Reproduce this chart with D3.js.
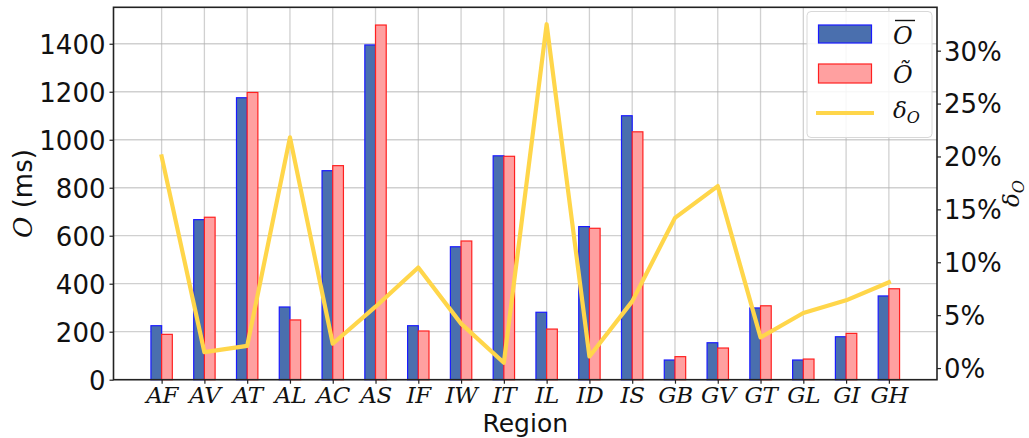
<!DOCTYPE html>
<html>
<head>
<meta charset="utf-8">
<script src="https://cdn.jsdelivr.net/npm/d3@7"></script>
<style>
  html, body { margin: 0; padding: 0; background: #fff; }
  svg { display: block; }
</style>
</head>
<body>
<div id="chart"></div>
<script>
const regions = ["AF","AV","AT","AL","AC","AS","IF","IW","IT","IL","ID","IS","GB","GV","GT","GL","GI","GH"];
const meanO   = [225, 667, 1175, 303, 871, 1395, 225, 554, 933, 281, 638, 1100, 82, 154, 299, 82, 179, 349];
const medianO = [189, 677, 1197, 249, 892, 1478, 203, 578, 931, 211, 631, 1033, 96, 132, 308, 86, 193, 379];
const deltaO  = [20.0, 1.5, 2.1, 21.8, 2.3, 5.8, 9.5, 4.2, 0.5, 32.5, 1.1, 6.3, 14.2, 17.2, 2.9, 5.2, 6.4, 8.1];
const leftTicks  = [0, 200, 400, 600, 800, 1000, 1200, 1400];
const rightTicks = [0, 5, 10, 15, 20, 25, 30];

const W = 1029, H = 438;
const L = 113.5, R = 937, T = 7.3, B = 379.7;
const barW = 0.25;

const svg = d3.select("#chart").append("svg").attr("width", W).attr("height", H);

const n = regions.length;
const xMin = -barW - 0.05 * (n - 1 + 2 * barW), xMax = n - 1 + barW + 0.05 * (n - 1 + 2 * barW);
const x = d3.scaleLinear().domain([xMin, xMax]).range([L, R]);
const yMax = d3.max(meanO.concat(medianO)) * 1.05;
const y = d3.scaleLinear().domain([0, yMax]).range([B, T]);
const dMin = d3.min(deltaO), dMax = d3.max(deltaO), dR = dMax - dMin;
const y2 = d3.scaleLinear().domain([dMin - 0.05 * dR, dMax + 0.05 * dR]).range([B, T]);

// grid
const grid = svg.append("g").attr("stroke", "#b0b0b0").attr("stroke-opacity", 0.6).attr("stroke-width", 1.3);
grid.selectAll("line.v").data(regions).enter().append("line")
  .attr("x1", (d, i) => x(i)).attr("x2", (d, i) => x(i)).attr("y1", T).attr("y2", B);
grid.selectAll("line.h").data(leftTicks).enter().append("line")
  .attr("x1", L).attr("x2", R).attr("y1", d => y(d)).attr("y2", d => y(d));

// bars
svg.append("g").selectAll("rect").data(meanO).enter().append("rect")
  .attr("x", (d, i) => x(i - barW)).attr("width", x(barW) - x(0))
  .attr("y", d => y(d)).attr("height", d => B - y(d))
  .attr("fill", "#4a6fae").attr("stroke", "#1a1aff").attr("stroke-width", 1.2);
svg.append("g").selectAll("rect").data(medianO).enter().append("rect")
  .attr("x", (d, i) => x(i)).attr("width", x(barW) - x(0))
  .attr("y", d => y(d)).attr("height", d => B - y(d))
  .attr("fill", "#ffa0a0").attr("stroke", "#ff2020").attr("stroke-width", 1.2);

// line
const line = d3.line().x((d, i) => x(i)).y(d => y2(d));
svg.append("path").datum(deltaO).attr("d", line)
  .attr("fill", "none").attr("stroke", "#ffd64a").attr("stroke-width", 4.2)
  .attr("stroke-linejoin", "round").attr("stroke-linecap", "square");

// axes
const font = "'DejaVu Sans', sans-serif";
const ax = svg.append("g").attr("transform", `translate(${L},0)`)
  .call(d3.axisLeft(y).tickValues(leftTicks).tickSize(4).tickPadding(4).tickFormat(d3.format("d")));
const ax2 = svg.append("g").attr("transform", `translate(${R},0)`)
  .call(d3.axisRight(y2).tickValues(rightTicks).tickSize(4).tickPadding(3).tickFormat(d => d + "%"));
const axb = svg.append("g").attr("transform", `translate(0,${B})`)
  .call(d3.axisBottom(x).tickValues(d3.range(n)).tickSize(4).tickPadding(4).tickFormat(i => regions[i]));
[ax, ax2, axb].forEach(g => {
  g.select(".domain").remove();
  g.selectAll(".tick line").attr("stroke", "#222").attr("stroke-width", 1.2);
});
[ax, ax2].forEach(g => g.selectAll(".tick text").attr("font-family", font).attr("font-size", 26).attr("fill", "#111").attr("dy", "0.36em"));
axb.selectAll(".tick text").attr("font-family", "'DejaVu Serif', serif").attr("font-style", "italic")
  .attr("font-size", 23).attr("fill", "#111").attr("dy", "0.66em").attr("letter-spacing", "-0.3px");

// frame
svg.append("rect").attr("x", L).attr("y", T).attr("width", R - L).attr("height", B - T)
  .attr("fill", "none").attr("stroke", "#222").attr("stroke-width", 1.6);

// axis labels
svg.append("text").attr("x", (L + R) / 2).attr("y", 431.5).attr("text-anchor", "middle")
  .attr("font-family", font).attr("font-size", 25).attr("fill", "#111").text("Region");
const yl = svg.append("text").attr("transform", `translate(32,${(T + B) / 2}) rotate(-90)`)
  .attr("text-anchor", "middle").attr("font-family", font).attr("font-size", 26).attr("fill", "#111");
yl.append("tspan").attr("font-family", "'DejaVu Serif', serif").attr("font-style", "italic").text("O");
yl.append("tspan").text(" (ms)");
const yr = svg.append("text").attr("transform", `translate(1019,${(T + B) / 2}) rotate(-90)`)
  .attr("text-anchor", "middle").attr("font-family", "'DejaVu Serif', serif").attr("font-style", "italic")
  .attr("font-size", 23).attr("fill", "#111");
yr.append("tspan").text("δ");
yr.append("tspan").attr("font-size", 16).attr("dy", 5).text("O");

// legend
const lg = svg.append("g");
lg.append("rect").attr("x", 807).attr("y", 11.5).attr("width", 125).attr("height", 126).attr("rx", 4)
  .attr("fill", "#fff").attr("fill-opacity", 0.85).attr("stroke", "#d8d8d8").attr("stroke-width", 1);
lg.append("rect").attr("x", 818.5).attr("y", 25).attr("width", 53).attr("height", 18)
  .attr("fill", "#4a6fae").attr("stroke", "#1a1aff").attr("stroke-width", 1.2);
lg.append("rect").attr("x", 818.5).attr("y", 64).attr("width", 53).attr("height", 19)
  .attr("fill", "#ffa0a0").attr("stroke", "#ff2020").attr("stroke-width", 1.2);
lg.append("line").attr("x1", 816).attr("x2", 874).attr("y1", 113).attr("y2", 113)
  .attr("stroke", "#ffd64a").attr("stroke-width", 4.2);
const lt = "'DejaVu Serif', serif";
lg.append("text").attr("x", 893).attr("y", 44).attr("font-family", lt).attr("font-style", "italic")
  .attr("font-size", 24).attr("fill", "#111").text("O");
lg.append("line").attr("x1", 895).attr("x2", 915).attr("y1", 20.5).attr("y2", 20.5)
  .attr("stroke", "#111").attr("stroke-width", 1.4);
lg.append("text").attr("x", 893).attr("y", 83).attr("font-family", lt).attr("font-style", "italic")
  .attr("font-size", 24).attr("fill", "#111").text("O\u0303");
const l3 = lg.append("text").attr("x", 893).attr("y", 118).attr("font-family", lt).attr("font-style", "italic")
  .attr("font-size", 23).attr("fill", "#111");
l3.append("tspan").text("δ");
l3.append("tspan").attr("font-size", 16).attr("dy", 5).text("O");
</script>
</body>
</html>
